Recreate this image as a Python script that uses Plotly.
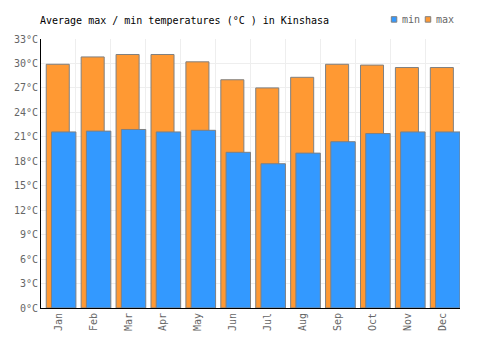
import plotly.graph_objects as go

months = ["Jan", "Feb", "Mar", "Apr", "May", "Jun", "Jul", "Aug", "Sep", "Oct", "Nov", "Dec"]
t_max = [29.9, 30.8, 31.1, 31.1, 30.2, 28.0, 27.0, 28.3, 29.9, 29.8, 29.5, 29.5]
t_min = [21.6, 21.7, 21.9, 21.6, 21.8, 19.1, 17.7, 19.0, 20.4, 21.4, 21.6, 21.6]
y_ticks = list(range(0, 34, 3))
y_tick_labels = [f"{v}°C" for v in y_ticks]
series_names = ["min", "max"]

FONT = "DejaVu Sans Mono"
ORANGE = "#ff9933"
BLUE = "#3399ff"
EDGE = "#808080"

fig = go.Figure()
fig.add_trace(go.Bar(x=months, y=t_max, name=series_names[1],
                     marker=dict(color=ORANGE, line=dict(color=EDGE, width=1)),
                     offset=-0.35, width=0.66, showlegend=False))
fig.add_trace(go.Bar(x=months, y=t_min, name=series_names[0],
                     marker=dict(color=BLUE, line=dict(color=EDGE, width=1)),
                     offset=-0.2, width=0.7, showlegend=False))

# compact legend (squares + labels) in the top-right corner
legend_items = [(series_names[0], BLUE, 391.5), (series_names[1], ORANGE, 425.5)]
for name, color, px in legend_items:
    fig.add_shape(type="rect", xref="paper", yref="paper",
                  x0=(px - 40.7) / 419.6, x1=(px + 5.5 - 40.7) / 419.6,
                  y0=(308 - 22.5) / 268.7, y1=(308 - 17) / 268.7,
                  fillcolor=color, line=dict(color=EDGE, width=1))
    fig.add_annotation(text=name, xref="paper", yref="paper",
                       x=(px + 8.5 - 40.7) / 419.6, xanchor="left",
                       y=(308 - 20) / 268.7, yanchor="middle", showarrow=False,
                       font=dict(family=FONT, size=10, color="#666666"))

fig.update_layout(
    width=500, height=350,
    margin=dict(l=41, r=40, t=39, b=42),
    paper_bgcolor="white", plot_bgcolor="white",
    barmode="overlay",
    showlegend=False,
    font=dict(family=FONT, size=10, color="#666666"),
    title=dict(text="Average max / min temperatures (°C ) in Kinshasa", x=40/500, xanchor="left",
               y=1 - 20/350, yanchor="middle", font=dict(family=FONT, size=10, color="#000000")),
)
fig.update_xaxes(type="category", tickson="boundaries", showgrid=True, gridcolor="#eeeeee", gridwidth=1,
                 tickangle=-90, showline=True, linecolor="#000000", linewidth=1, ticks="",
                 range=[-0.5, 11.5], automargin=False)
fig.update_yaxes(range=[0, 33], tickmode="array", tickvals=y_ticks, ticktext=y_tick_labels,
                 showgrid=True, gridcolor="#eeeeee", gridwidth=1, showline=True, linecolor="#000000",
                 linewidth=1, ticks="", zeroline=False, automargin=False)

fig.write_html("out.html")
